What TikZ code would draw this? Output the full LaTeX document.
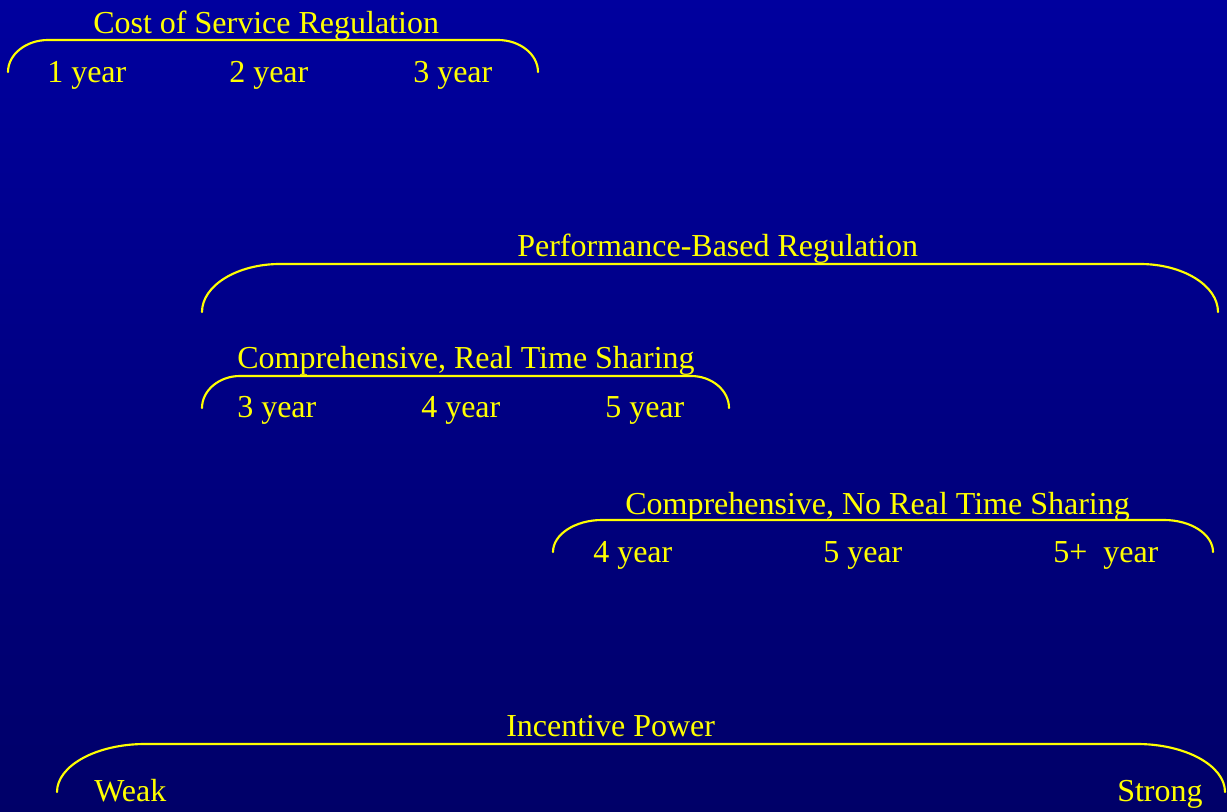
\documentclass[tikz,border=0pt]{standalone}
\usepackage{fontspec}
\setmainfont{Liberation Serif}
\usepackage{tikz}

\begin{document}
\begin{tikzpicture}
			[x=0.75pt,y=-0.75pt,line cap=round,
			%Styles
			brace line/.style={draw=braceyellow,line width=1.6pt},
			label text/.style={text=braceyellow,anchor=base west,inner sep=0pt,font=\fontsize{24}{28}\selectfont}
			]
			
			%Colors
			\definecolor{braceyellow}{RGB}{255,255,0}
			\definecolor{skytop}{RGB}{0,0,158}
			\definecolor{skybottom}{RGB}{0,0,104}
			
			%Background
			\shade[top color=skytop,bottom color=skybottom] (0,0) rectangle (1227,812);
			\useasboundingbox (0,0) rectangle (1227,812);
			
			%Brace: left x, right x, end y, top y, curve width, curve height
			\newcommand{\regbrace}[6]{
				\draw[brace line] (#1,#3) .. controls (#1,#3-0.55*#6) and (#1+0.45*#5,#4) .. (#1+#5,#4)
					-- (#2-#5,#4) .. controls (#2-0.45*#5,#4) and (#2,#3-0.55*#6) .. (#2,#3);
			}
			
			%Cost of service
			\regbrace{8}{538}{72}{40}{40}{32}
			\node[label text] (cost) at (93,34) {Cost of Service Regulation};
			\node[label text] (costa) at (47,83) {1 year};
			\node[label text] (costb) at (229,83) {2 year};
			\node[label text] (costc) at (413,83) {3 year};
			
			%Performance based
			\regbrace{202}{1218}{312}{264}{78}{48}
			\node[label text] (pbr) at (517,257) {Performance-Based Regulation};
			
			%Real time sharing
			\regbrace{202}{729}{408}{376}{38}{32}
			\node[label text] (rts) at (237,369) {Comprehensive, Real Time Sharing};
			\node[label text] (rtsa) at (237,418) {3 year};
			\node[label text] (rtsb) at (421,418) {4 year};
			\node[label text] (rtsc) at (605,418) {5 year};
			
			%No real time sharing
			\regbrace{553}{1213}{552}{520}{49}{32}
			\node[label text] (nrts) at (625,514) {Comprehensive, No Real Time Sharing};
			\node[label text] (nrtsa) at (593,562) {4 year};
			\node[label text] (nrtsb) at (823,562) {5 year};
			\node[label text] (nrtsc) at (1053,562) {5+\ \ year};
			
			%Incentive power
			\regbrace{57}{1225}{792}{744}{88}{48}
			\node[label text] (power) at (506,736) {Incentive Power};
			\node[label text] (weak) at (94,801) {Weak};
			\node[label text] (strong) at (1117,801) {Strong};
		\end{tikzpicture}
\end{document}
